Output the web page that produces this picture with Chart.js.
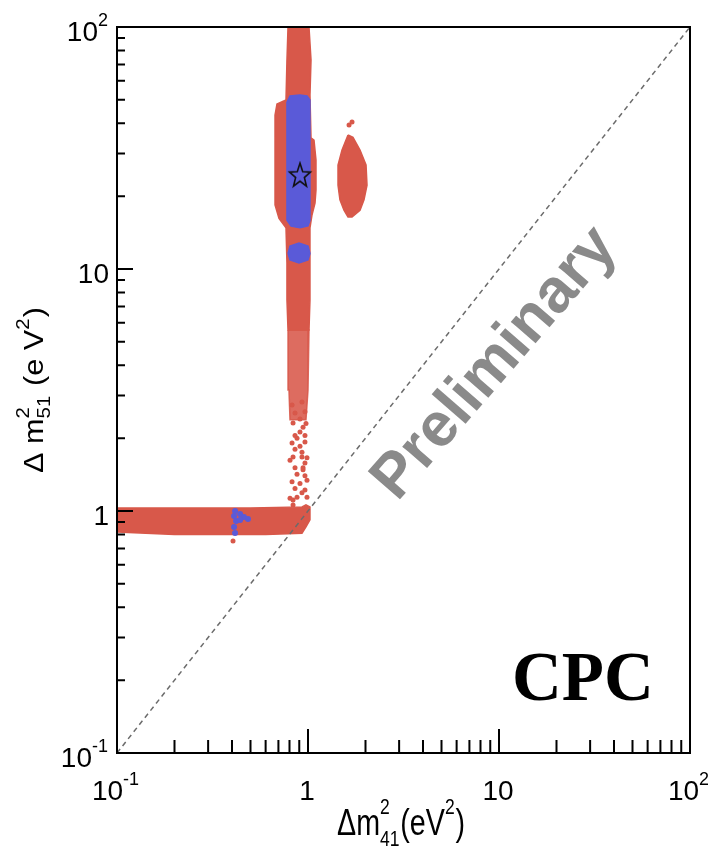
<!DOCTYPE html>
<html>
<head>
<meta charset="utf-8">
<script src="https://cdn.jsdelivr.net/npm/chart.js@4.4.1/dist/chart.umd.min.js"></script>
<style>
  html, body { margin: 0; padding: 0; background: #fff; }
  canvas { display: block; }
</style>
</head>
<body>
<canvas id="Chart" width="708" height="849"></canvas>
<script>
// allowed regions in the (dm2_41, dm2_51) plane, eV^2, outlines
const redColumn = [
  [0.786, 100], [1.012, 100], [1.037, 73.0], [1.024, 52.4], [1.037, 34.8], [1.075, 34.1],
  [1.101, 28.2], [1.101, 21.2], [1.088, 18.7], [1.049, 16.7], [1.024, 14.8], [1.024, 10.6],
  [1.024, 7.44], [1.012, 5.6], [0.786, 5.6], [0.776, 7.44], [0.776, 10.6], [0.767, 14.8],
  [0.705, 16.2], [0.672, 18.4], [0.672, 31.0], [0.672, 43.3], [0.688, 48.1], [0.767, 49.9],
  [0.776, 73.0]
];
const redColumnLower = [
  [0.786, 5.6], [1.012, 5.6], [1.0, 3.16], [0.976, 2.38], [0.805, 2.38], [0.795, 3.16]
];
const redBlob = [
  [1.62, 35.8], [1.72, 35.0], [1.872, 31.0], [2.013, 26.9], [2.037, 22.2], [1.964, 19.3],
  [1.872, 17.5], [1.70, 16.4], [1.62, 16.4], [1.543, 17.5], [1.47, 19.3], [1.436, 22.2],
  [1.436, 26.9], [1.507, 31.0]
];
const redBand = [
  [0.098, 1.03], [0.5, 1.03], [0.93, 1.04], [0.976, 1.06], [1.024, 1.04], [1.024, 0.92],
  [0.976, 0.86], [0.93, 0.81], [0.6, 0.80], [0.2, 0.80], [0.098, 0.82]
];
const redDots = [
  [0.835, 2.31], [0.942, 2.22], [0.876, 2.00], [0.825, 1.91], [0.964, 1.93], [0.930, 1.75],
  [0.835, 1.67], [0.930, 1.67], [0.988, 1.66], [0.805, 1.62], [0.855, 1.51], [0.942, 1.51],
  [0.942, 1.48], [0.825, 1.32], [0.988, 1.34], [0.964, 1.22], [0.930, 1.19], [0.876, 1.14],
  [0.805, 1.13], [0.988, 1.14], [0.835, 1.11], [0.835, 1.06], [0.855, 2.54], [0.964, 2.57],
  [0.825, 2.74], [0.930, 2.82], [0.908, 2.12], [0.855, 2.05], [0.964, 2.05], [0.908, 1.85],
  [0.855, 1.80], [0.964, 1.58], [0.876, 1.42], [0.964, 1.40], [0.908, 1.30], [0.855, 1.24],
  [0.908, 2.40], [0.976, 2.30],
  [1.64, 39.4], [1.70, 40.5], [0.405, 0.751]
];
const blueColumn = [
  [0.776, 49.0], [0.805, 51.9], [0.908, 52.4], [0.988, 51.9], [1.024, 49.9], [1.024, 15.9],
  [1.0, 15.06], [0.908, 14.8], [0.815, 15.06], [0.776, 15.9]
];
const blueBlob = [
  [0.786, 11.6], [0.805, 12.45], [0.897, 12.8], [1.0, 12.45], [1.024, 11.6], [1.0, 10.9],
  [0.897, 10.6], [0.805, 10.9]
];
const blueDots = [
  [0.415, 1.0], [0.410, 0.953], [0.420, 0.909], [0.410, 0.859], [0.415, 0.811],
  [0.441, 0.972], [0.462, 0.944], [0.485, 0.927], [0.441, 0.918]
];
const bestFit = [[0.908, 24.5]];
const diagonal = [[0.1, 0.1], [100, 100]];

const tickValues = [0.1, 1, 10, 100];
const tickBase = ['10', '1', '10', '10'];
const tickExp = ['-1', '', '', '2'];
const minorSteps = [2, 3, 4, 5, 6, 7, 8, 9];

const RED = '#d8584a';
const RED_LIGHT = 'rgba(216, 88, 74, 0.88)';
const BLUE = '#5a5ad8';
const FAMILY = '"Liberation Sans", Arial, Helvetica, sans-serif';

const toXY = (pts) => pts.map(([x, y]) => ({ x, y }));

const shape = (pts, color, order) => ({
  data: toXY(pts.concat([pts[0]])),
  borderColor: color,
  backgroundColor: color,
  borderWidth: 1.5,
  fill: 'shape',
  pointRadius: 0,
  tension: 0,
  order,
});

const dots = (pts, color, radius, order) => ({
  data: toXY(pts),
  showLine: false,
  pointRadius: radius,
  pointBackgroundColor: color,
  pointBorderWidth: 0,
  order,
});

function starImage() {
  const c = document.createElement('canvas');
  c.width = 26;
  c.height = 28;
  const g = c.getContext('2d');
  g.beginPath();
  for (let i = 0; i < 10; i++) {
    const r = i % 2 ? 4.6 : 11;
    const ang = -Math.PI / 2 + i * Math.PI / 5;
    g.lineTo(13 + r * Math.cos(ang), 15 + r * Math.sin(ang) * 1.15);
  }
  g.closePath();
  g.lineWidth = 1.6;
  g.strokeStyle = '#111';
  g.stroke();
  return c;
}

// text with stacked super/subscripts, ROOT style
function richText(ctx, parts, x, y, opts) {
  const widthOf = (p) => {
    ctx.font = (p.bold ? 'bold ' : '') + p.size + 'px ' + FAMILY;
    if (p.t !== undefined) return ctx.measureText(p.t).width;
    return Math.max(p.sup ? ctx.measureText(p.sup).width : 0, p.sub ? ctx.measureText(p.sub).width : 0) + 1;
  };
  const total = parts.reduce((s, p) => s + widthOf(p), 0);
  const sx = opts.width ? opts.width / total : 1;
  let cx = opts.align === 'center' ? -total / 2 : opts.align === 'right' ? -total : 0;
  ctx.save();
  ctx.translate(x, y);
  if (opts.rotate) ctx.rotate(opts.rotate);
  ctx.scale(sx, 1);
  ctx.textAlign = 'left';
  ctx.textBaseline = 'alphabetic';
  ctx.fillStyle = opts.color || '#000';
  for (const p of parts) {
    const w = widthOf(p);
    if (p.t !== undefined) {
      ctx.fillText(p.t, cx, 0);
    } else {
      if (p.sup) ctx.fillText(p.sup, cx, -p.up);
      if (p.sub) ctx.fillText(p.sub, cx, p.down);
    }
    cx += w;
  }
  ctx.restore();
}

const frame = {
  id: 'frame',
  afterDraw(chart) {
    const { ctx, chartArea: a, scales: { x, y } } = chart;
    ctx.save();
    ctx.strokeStyle = '#000';
    ctx.lineWidth = 2;
    ctx.strokeRect(a.left, a.top, a.right - a.left, a.bottom - a.top);

    // tick marks on the inside of the left and bottom axes
    ctx.beginPath();
    tickValues.forEach((v, i) => {
      const py = y.getPixelForValue(v);
      const px = x.getPixelForValue(v);
      ctx.moveTo(a.left, py); ctx.lineTo(a.left + 16, py);
      ctx.moveTo(px, a.bottom); ctx.lineTo(px, a.bottom - 24);
      if (i < tickValues.length - 1) {
        minorSteps.forEach((m) => {
          const my = y.getPixelForValue(v * m);
          const mx = x.getPixelForValue(v * m);
          ctx.moveTo(a.left, my); ctx.lineTo(a.left + 8, my);
          ctx.moveTo(mx, a.bottom); ctx.lineTo(mx, a.bottom - 13);
        });
      }
    });
    ctx.stroke();

    // tick labels
    tickValues.forEach((v, i) => {
      const parts = [{ t: tickBase[i], size: 28 }];
      if (tickExp[i]) parts.push({ sup: tickExp[i], size: 18, up: 15 });
      richText(ctx, parts, a.left - 8, y.getPixelForValue(v) + 14, { align: 'right' });
      richText(ctx, parts, x.getPixelForValue(v) - 1, a.bottom + 47, { align: 'center' });
    });

    // axis titles
    richText(ctx, [
      { t: '\u0394m', size: 36 },
      { sup: '2', sub: '41', size: 22, up: 21, down: 11 },
      { t: '(eV', size: 36 },
      { sup: '2', size: 22, up: 21 },
      { t: ')', size: 36 },
    ], a.left + 220, a.bottom + 82, { align: 'left', width: 128 });

    richText(ctx, [
      { t: '\u0394 m', size: 27 },
      { sup: '2', sub: '51', size: 18, up: 14, down: 7 },
      { t: ' (e V', size: 27 },
      { sup: '2', size: 18, up: 14 },
      { t: ')', size: 27 },
    ], 43, (a.top + a.bottom) / 2, { align: 'center', rotate: -Math.PI / 2, width: 166 });

    // watermark and experiment label
    ctx.save();
    ctx.translate(a.left + 391, a.top + 348);
    ctx.rotate(-49 * Math.PI / 180);
    ctx.font = 'bold 62px ' + FAMILY;
    ctx.fillStyle = '#8a8a8a';
    ctx.textAlign = 'center';
    ctx.textBaseline = 'alphabetic';
    ctx.fillText('Preliminary', 0, 0);
    ctx.restore();

    ctx.font = 'bold 69px "Liberation Serif", "Times New Roman", serif';
    ctx.fillStyle = '#000';
    ctx.textAlign = 'left';
    ctx.textBaseline = 'alphabetic';
    ctx.fillText('CPC', a.left + 395, a.top + 673);
    ctx.restore();
  },
};

new Chart('Chart', {
  type: 'line',
  data: {
    datasets: [
      { data: toXY(bestFit), showLine: false, pointStyle: starImage(), pointRadius: 10, order: 0 },
      {
        data: toXY(diagonal), borderColor: '#6b6b6b', borderWidth: 1.5, borderDash: [5, 4],
        pointRadius: 0, fill: false, order: 1,
      },
      dots(blueDots, BLUE, 3, 2),
      shape(blueColumn, BLUE, 3),
      shape(blueBlob, BLUE, 3),
      dots(redDots, RED, 2.5, 4),
      shape(redColumn, RED, 5),
      shape(redColumnLower, RED_LIGHT, 5),
      shape(redBlob, RED, 5),
      shape(redBand, RED, 5),
    ],
  },
  options: {
    responsive: false,
    animation: false,
    layout: { padding: { left: 117, top: 27, right: 18, bottom: 96 } },
    plugins: { legend: { display: false }, tooltip: { enabled: false } },
    scales: {
      x: { type: 'logarithmic', min: 0.1, max: 100, display: false },
      y: { type: 'logarithmic', min: 0.1, max: 100, display: false },
    },
  },
  plugins: [frame],
});
</script>
</body>
</html>
